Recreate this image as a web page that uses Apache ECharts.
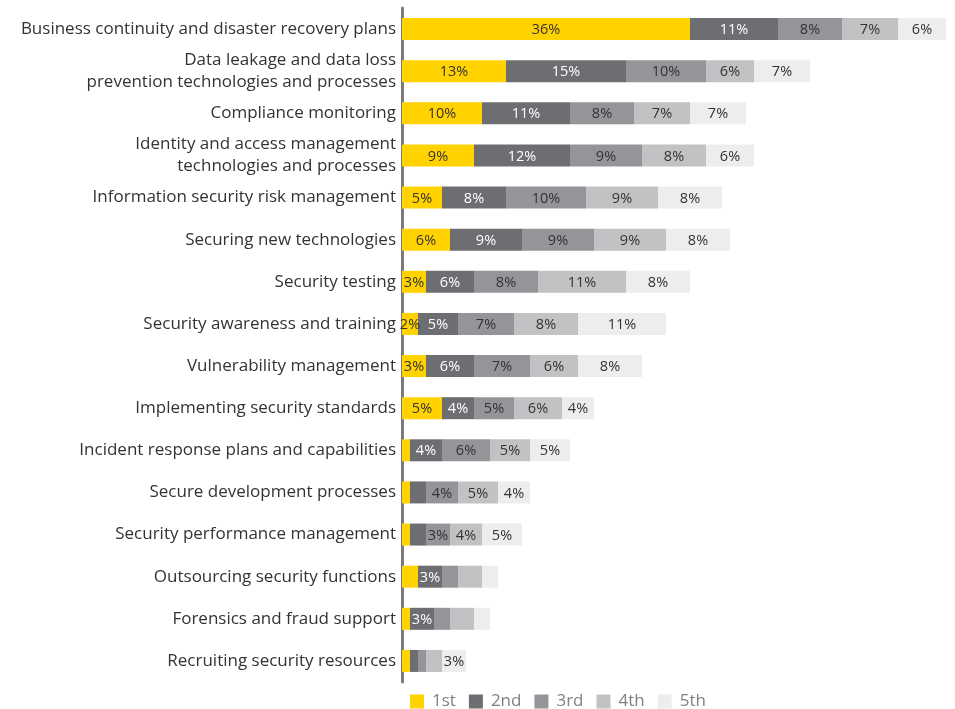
<!DOCTYPE html>
<html>
<head>
<meta charset="utf-8">
<script src="https://cdn.jsdelivr.net/npm/echarts@6/dist/echarts.min.js"></script>
<style>
  html, body { margin: 0; padding: 0; background: #fff; }
  #chart { width: 955px; height: 709px; }
</style>
</head>
<body>
<div id="chart"></div>
<script>
// Priority areas, top to bottom
const categories = [
  'Business continuity and disaster recovery plans',
  'Data leakage and data loss\nprevention technologies and processes',
  'Compliance monitoring',
  'Identity and access management\ntechnologies and processes',
  'Information security risk management',
  'Securing new technologies',
  'Security testing',
  'Security awareness and training',
  'Vulnerability management',
  'Implementing security standards',
  'Incident response plans and capabilities',
  'Secure development processes',
  'Security performance management',
  'Outsourcing security functions',
  'Forensics and fraud support',
  'Recruiting security resources'
];

const rankNames = ['1st', '2nd', '3rd', '4th', '5th'];

// Share of respondents (%) placing each area at each rank
const first  = [36, 13, 10,  9,  5, 6,  3,  2, 3, 5, 1, 1, 1, 2, 1, 1];
const second = [11, 15, 11, 12,  8, 9,  6,  5, 6, 4, 4, 2, 2, 3, 3, 1];
const third  = [ 8, 10,  8,  9, 10, 9,  8,  7, 7, 5, 6, 4, 3, 2, 2, 1];
const fourth = [ 7,  6,  7,  8,  9, 9, 11,  8, 6, 6, 5, 5, 4, 3, 3, 2];
const fifth  = [ 6,  7,  7,  6,  8, 8,  8, 11, 8, 4, 5, 4, 5, 2, 2, 3];

// Rows whose segment carries no value label
const unlabelledFirst  = [10, 11, 12, 13, 14, 15];
const unlabelledSecond = [11, 12, 15];
const unlabelledThird  = [13, 14, 15];
const unlabelledFourth = [13, 14, 15];
const unlabelledFifth  = [13, 14];

const values = [first, second, third, fourth, fifth];
const unlabelled = [unlabelledFirst, unlabelledSecond, unlabelledThird, unlabelledFourth, unlabelledFifth];
const colors = ['#FFD200', '#6D6E72', '#939598', '#C1C2C4', '#EDEDED'];
const labelColors = ['#333333', '#ffffff', '#333333', '#333333', '#333333'];

const FONT = '"Open Sans", sans-serif';

const series = values.map((vals, s) => ({
  name: rankNames[s],
  type: 'bar',
  stack: 'rank',
  barWidth: 22,
  itemStyle: { color: colors[s] },
  label: {
    show: true,
    position: 'inside',
    offset: [0, 1],
    formatter: '{c}%',
    fontFamily: FONT,
    fontSize: 14.5,
    color: labelColors[s]
  },
  emphasis: { disabled: true },
  data: vals.map((v, i) => unlabelled[s].includes(i)
    ? { value: v, label: { show: false } }
    : v)
}));

const chart = echarts.init(document.getElementById('chart'), null, { renderer: 'canvas' });
chart.setOption({
  animation: false,
  color: colors,
  grid: { left: 402, right: 9, top: 8, bottom: 27, containLabel: false },
  xAxis: {
    type: 'value',
    min: 0,
    max: 68,
    show: false
  },
  yAxis: {
    type: 'category',
    inverse: true,
    data: categories,
    axisLine: { show: true, lineStyle: { color: '#7a7a7a', width: 3 } },
    axisTick: { show: false },
    axisLabel: {
      margin: 6,
      fontFamily: FONT,
      fontSize: 17,
      lineHeight: 22,
      color: '#333333',
      align: 'right'
    }
  },
  legend: {
    data: rankNames,
    left: 405,
    top: 688,
    itemWidth: 14,
    itemHeight: 14,
    itemGap: 13,
    icon: 'rect',
    textStyle: { fontFamily: FONT, fontSize: 17, color: '#808080', padding: [0, 0, 0, 3] }
  },
  series
});
</script>
</body>
</html>
